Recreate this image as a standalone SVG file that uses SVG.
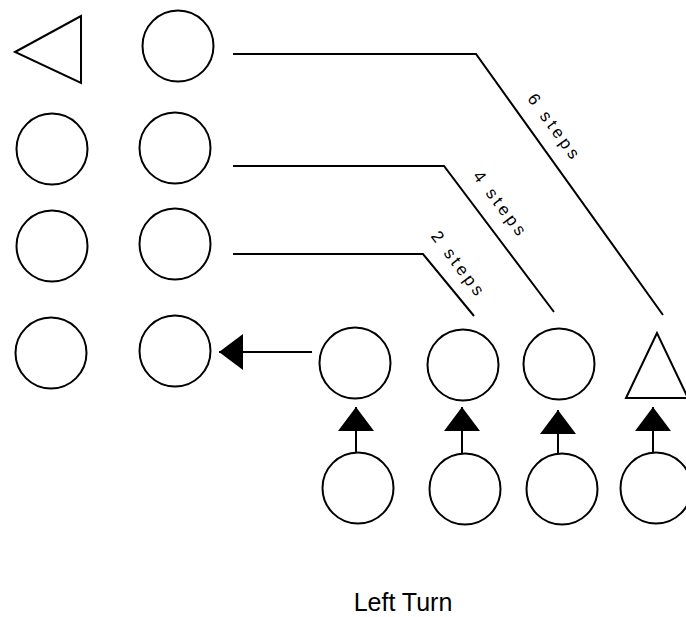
<svg xmlns="http://www.w3.org/2000/svg" width="686" height="617" viewBox="0 0 686 617">
<style>
.n{fill:#fff;stroke:#000;stroke-width:2}
.c{fill:none;stroke:#000;stroke-width:2}
.lbl{font-family:"Liberation Sans",Arial,sans-serif;font-size:17px;letter-spacing:3.5px;fill:#000}
.title{font-family:"Liberation Sans",Arial,sans-serif;font-size:25px;fill:#000}
</style>
<defs>
<marker id="ah" viewBox="0 0 24 36" refX="24" refY="18" markerWidth="24" markerHeight="36" markerUnits="userSpaceOnUse" orient="auto">
<path d="M0,0 L24,18 L0,36 Z" fill="#000"/>
</marker>
</defs>
<rect width="686" height="617" fill="#fff"/>
<g id="nodes">
<g id="tri-left"><polygon class="n" points="15,52 81,16 81,83"/></g>
<g id="c-1-2"><circle class="n" cx="178" cy="46" r="35.5"/></g>
<g id="c-2-1"><circle class="n" cx="52" cy="149" r="35.5"/></g>
<g id="c-2-2"><circle class="n" cx="175" cy="148" r="35.5"/></g>
<g id="c-3-1"><circle class="n" cx="52" cy="246" r="35.5"/></g>
<g id="c-3-2"><circle class="n" cx="175" cy="244" r="35.5"/></g>
<g id="c-4-1"><circle class="n" cx="51" cy="353" r="35.5"/></g>
<g id="c-4-2"><circle class="n" cx="175" cy="351" r="35.5"/></g>
<g id="b-1"><circle class="n" cx="355" cy="363" r="35.5"/></g>
<g id="b-2"><circle class="n" cx="463" cy="365" r="35.5"/></g>
<g id="b-3"><circle class="n" cx="559" cy="364" r="35.5"/></g>
<g id="tri-up"><polygon class="n" points="657,333 626,398 688,398"/></g>
<g id="l-1"><circle class="n" cx="358" cy="488" r="35.5"/></g>
<g id="l-2"><circle class="n" cx="465" cy="489" r="35.5"/></g>
<g id="l-3"><circle class="n" cx="562" cy="489" r="35.5"/></g>
<g id="l-4"><circle class="n" cx="656" cy="488" r="35.5"/></g>
</g>
<g id="connectors">
<polyline class="c" points="233,54 476,54 663,315"/>
<polyline class="c" points="233,166 444,166 554,312"/>
<polyline class="c" points="233,254 423,254 474,316"/>
<line class="c" x1="312" y1="352" x2="219" y2="352" marker-end="url(#ah)"/>
<line class="c" x1="356" y1="453" x2="356" y2="407" marker-end="url(#ah)"/>
<line class="c" x1="462" y1="453" x2="462" y2="407" marker-end="url(#ah)"/>
<line class="c" x1="558" y1="453" x2="558" y2="410" marker-end="url(#ah)"/>
<line class="c" x1="653" y1="453" x2="653" y2="407" marker-end="url(#ah)"/>
<text class="lbl" text-anchor="middle" x="0" y="5" transform="translate(554,128) rotate(54)">6 steps</text>
<text class="lbl" text-anchor="middle" x="0" y="5" transform="translate(500,205) rotate(53)">4 steps</text>
<text class="lbl" text-anchor="middle" x="0" y="5" transform="translate(458,265) rotate(53)">2 steps</text>
</g>
<text class="title" text-anchor="middle" x="403" y="611">Left Turn</text>
</svg>
